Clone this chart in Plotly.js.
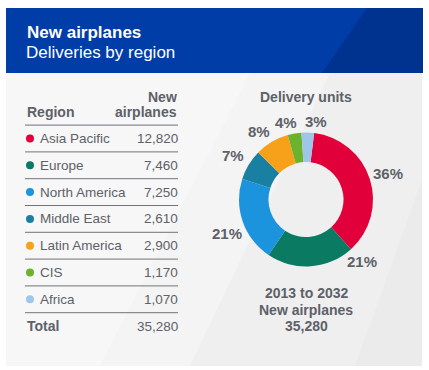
<!DOCTYPE html>
<html>
<head>
<meta charset="utf-8">
<script src="https://cdn.plot.ly/plotly-3.0.1.min.js"></script>
<style>
html,body{margin:0;padding:0;background:#ffffff;}
#chart{width:429px;height:370px;}
</style>
</head>
<body>
<div id="chart"></div>
<script>
// ---- data ----
var regions = ["Asia Pacific", "Europe", "North America", "Middle East", "Latin America", "CIS", "Africa"];
var deliveries = [12820, 7460, 7250, 2610, 2900, 1170, 1070];
var valueLabels = ["12,820", "7,460", "7,250", "2,610", "2,900", "1,170", "1,070"];
var pctLabels = ["36%", "21%", "21%", "7%", "8%", "4%", "3%"];
var regionColors = ["#e2003b", "#0b7a63", "#1b93dd", "#1a80a2", "#f7a11b", "#6cb32d", "#9ec6e8"];
var totalLabel = "35,280";
var titleText = "New airplanes";
var subtitleText = "Deliveries by region";
var tableHeaders = ["Region", "New", "airplanes"];
var pieTitle = "Delivery units";
var pieFooter = ["2013 to 2032", "New airplanes", "35,280"];

// ---- layout helpers ----
var W = 429, H = 370;
function px(x){ return x / W; }
function py(y){ return 1 - y / H; }
var FONT = "'Liberation Sans', Arial, sans-serif";
var GRAY = "#5d6168";

var rowIdx = regions.map(function(_, i){ return i; });

var traces = [];
// donut
var cx = 306, cy = 199.5, R = 67, ROT = 7;
traces.push({
  type: "pie",
  values: deliveries,
  labels: regions,
  textinfo: "none",
  marker: {colors: regionColors, line: {width: 0}},
  hole: 0.56,
  sort: false,
  direction: "clockwise",
  rotation: ROT,
  domain: {x: [px(cx - R), px(cx + R)], y: [py(cy + R), py(cy - R)]},
  hoverinfo: "none",
  showlegend: false
});
// table dots
traces.push({
  type: "scatter",
  mode: "markers",
  x: rowIdx.map(function(){ return 30; }),
  y: rowIdx,
  marker: {size: 8, color: regionColors},
  hoverinfo: "none",
  showlegend: false,
  cliponaxis: false
});

var annotations = [];
var shapes = [];

// background panel
shapes.push({type: "rect", xref: "paper", yref: "paper", x0: px(6), x1: px(422), y0: py(366), y1: py(73), fillcolor: "#efefef", line: {width: 0}, layer: "below"});
shapes.push({type: "path", xref: "paper", yref: "paper", layer: "below", line: {width: 0}, fillcolor: "#f4f4f4",
  path: "M " + px(6) + "," + py(73) + " L " + px(330) + "," + py(73) + " L " + px(190) + "," + py(366) + " L " + px(6) + "," + py(366) + " Z"});
shapes.push({type: "path", xref: "paper", yref: "paper", layer: "below", line: {width: 0}, fillcolor: "#f7f7f7",
  path: "M " + px(6) + "," + py(73) + " L " + px(250) + "," + py(73) + " L " + px(100) + "," + py(366) + " L " + px(6) + "," + py(366) + " Z"});
shapes.push({type: "path", xref: "paper", yref: "paper", layer: "below", line: {width: 0}, fillcolor: "#ebebeb",
  path: "M " + px(422) + "," + py(180) + " L " + px(422) + "," + py(366) + " L " + px(355) + "," + py(366) + " Z"});

// header
shapes.push({type: "rect", xref: "paper", yref: "paper", x0: px(6), x1: px(423), y0: py(73), y1: py(8), fillcolor: "#003da6", line: {width: 0}, layer: "below"});
shapes.push({type: "path", xref: "paper", yref: "paper", layer: "below", line: {width: 0}, fillcolor: "#00328f",
  path: "M " + px(367) + "," + py(8) + " L " + px(423) + "," + py(8) + " L " + px(423) + "," + py(73) + " L " + px(322) + "," + py(73) + " Z"});
annotations.push({xref: "paper", yref: "paper", x: px(25), y: py(33), xanchor: "left", yanchor: "middle", showarrow: false,
  text: titleText, font: {family: FONT, size: 17, color: "#ffffff", weight: "bold"}});
annotations.push({xref: "paper", yref: "paper", x: px(24), y: py(53), xanchor: "left", yanchor: "middle", showarrow: false,
  text: subtitleText, font: {family: FONT, size: 17, color: "#ffffff"}});

// table header
annotations.push({xref: "x", yref: "y", x: 25, y: -1, xanchor: "left", yanchor: "middle", showarrow: false,
  text: tableHeaders[0], font: {family: FONT, size: 14, color: GRAY, weight: "bold"}});
annotations.push({xref: "x", yref: "y", x: 179, y: -1.56, xanchor: "right", yanchor: "middle", showarrow: false,
  text: tableHeaders[1], font: {family: FONT, size: 14, color: GRAY, weight: "bold"}});
annotations.push({xref: "x", yref: "y", x: 179, y: -1, xanchor: "right", yanchor: "middle", showarrow: false,
  text: tableHeaders[2], font: {family: FONT, size: 14, color: GRAY, weight: "bold"}});

// table rows
regions.forEach(function(r, i){
  annotations.push({xref: "x", yref: "y", x: 38, y: i, xanchor: "left", yanchor: "middle", showarrow: false,
    text: r, font: {family: FONT, size: 13.5, color: GRAY}});
  annotations.push({xref: "x", yref: "y", x: 180, y: i, xanchor: "right", yanchor: "middle", showarrow: false,
    text: valueLabels[i], font: {family: FONT, size: 13.5, color: GRAY}});
});
var totalIdx = regions.length;
annotations.push({xref: "x", yref: "y", x: 25, y: totalIdx, xanchor: "left", yanchor: "middle", showarrow: false,
  text: "Total", font: {family: FONT, size: 14, color: GRAY, weight: "bold"}});
annotations.push({xref: "x", yref: "y", x: 180, y: totalIdx, xanchor: "right", yanchor: "middle", showarrow: false,
  text: totalLabel, font: {family: FONT, size: 13.5, color: GRAY}});

// separator lines
for (var k = 0; k <= regions.length; k++) {
  shapes.push({type: "line", xref: "x", yref: "y", x0: 25, x1: 178, y0: k - 0.5, y1: k - 0.5,
    line: {color: "#707378", width: 1}});
}

// donut percentage labels, placed around each slice's middle angle
var total = deliveries.reduce(function(a, b){ return a + b; }, 0);
var labelNudge = [0, -38, -4, 0, -4, -5, 6]; // degrees, keeps labels clear of the footer text
var cum = 0;
deliveries.forEach(function(v, i){
  var mid = ROT + 360 * (cum + v / 2) / total + labelNudge[i];
  cum += v;
  var a = mid * Math.PI / 180;
  var s = Math.sin(a), c = Math.cos(a);
  var r = 77 + 10 * Math.abs(s);
  annotations.push({xref: "paper", yref: "paper", x: px(cx + r * s), y: py(cy - r * c), xanchor: "center", yanchor: "middle",
    showarrow: false, text: pctLabels[i], font: {family: FONT, size: 15, color: GRAY, weight: "bold"}});
});

// donut texts
annotations.push({xref: "paper", yref: "paper", x: px(306), y: py(97), xanchor: "center", yanchor: "middle", showarrow: false,
  text: pieTitle, font: {family: FONT, size: 14, color: GRAY, weight: "bold"}});
pieFooter.forEach(function(t, i){
  annotations.push({xref: "paper", yref: "paper", x: px(306), y: py(293 + 16.5 * i), xanchor: "center", yanchor: "middle", showarrow: false,
    text: t, font: {family: FONT, size: 14, color: GRAY, weight: "bold"}});
});

var layout = {
  width: W, height: H,
  margin: {l: 0, r: 0, t: 0, b: 0},
  paper_bgcolor: "#ffffff",
  plot_bgcolor: "rgba(0,0,0,0)",
  xaxis: {range: [0, W], domain: [0, 1], visible: false, fixedrange: true},
  yaxis: {range: [(H - 138.5) / 26.8, -138.5 / 26.8], domain: [0, 1], visible: false, fixedrange: true},
  shapes: shapes,
  annotations: annotations,
  showlegend: false
};

Plotly.newPlot("chart", traces, layout, {displayModeBar: false, staticPlot: true});
</script>
</body>
</html>
